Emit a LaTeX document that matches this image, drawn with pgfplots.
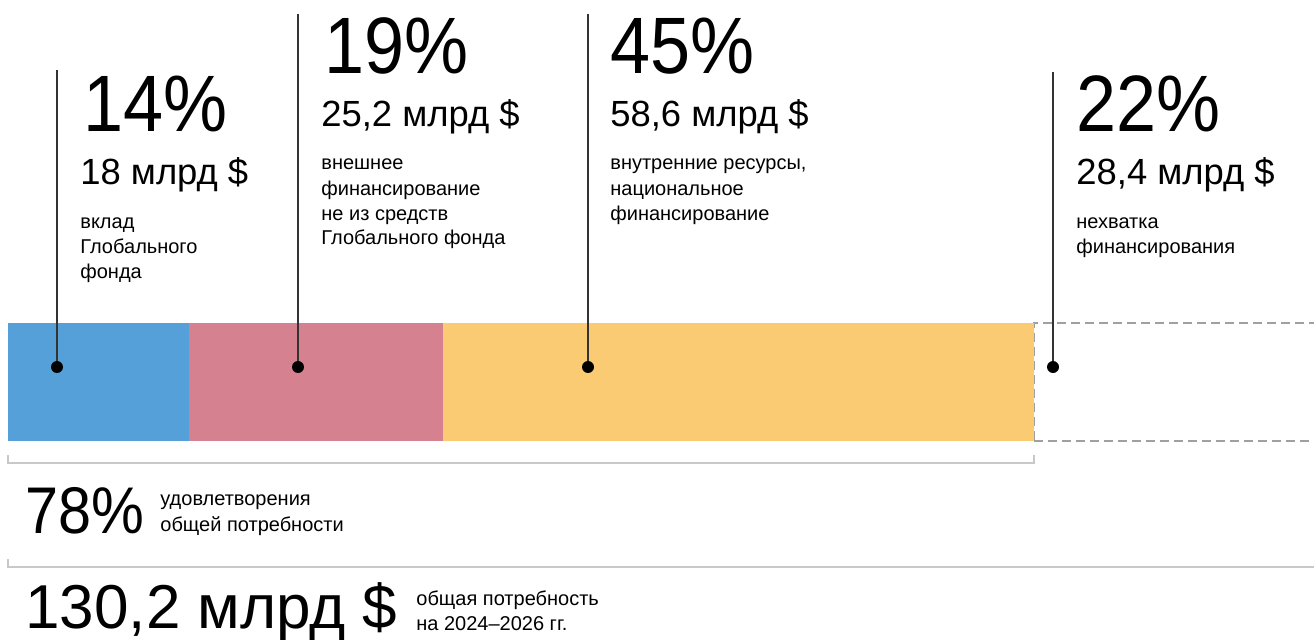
\documentclass[border=0pt]{standalone}
\usepackage{fontspec}
\setmainfont{Liberation Sans}
\newfontfamily\bigf[FakeStretch=0.9]{Liberation Sans}
\usepackage{pgfplots}
\pgfplotsset{compat=1.18}
\definecolor{cblue}{HTML}{55A0D8}
\definecolor{cpink}{HTML}{D6818F}
\definecolor{cyellow}{HTML}{FBCB73}
\definecolor{cgray}{HTML}{A0A0A0}
\definecolor{cbr}{HTML}{C8C8C8}
\definecolor{cline}{HTML}{333333}
\newcommand\smallf{\fontsize{10}{12.5}\selectfont}
\newcommand\medf{\fontsize{18.2}{20}\selectfont}
\newcommand\bigfs{\bigf\fontsize{40}{40}\selectfont}
\newcommand\sm[3]{\node[anchor=base west,inner sep=0,font=\smallf] at (#1,#2) {#3};}
\newcommand\md[3]{\node[anchor=base west,inner sep=0,font=\medf] at (#1,#2) {#3};}
\newcommand\bg[3]{\node[anchor=base west,inner sep=0,font=\bigfs] at (#1,#2) {#3};}
\newcommand\callout[3]{\draw[cline,line width=0.8pt] (#1,#2) -- (#1,#3); \fill[black] (#1,#3) circle[radius=3pt];}
\begin{document}
\begin{tikzpicture}
\useasboundingbox (0,0) rectangle (657pt,319.5pt);
\begin{axis}[at={(4pt,99pt)}, anchor=south west, width=656pt, height=59pt,
  scale only axis, xmin=0, xmax=130.2, ymin=0.5, ymax=1.5, hide axis,
  xbar stacked, bar width=59pt, clip=false]
\addplot[fill=cblue, draw=none] coordinates {(18,1)};
\addplot[fill=cpink, draw=none] coordinates {(25.2,1)};
\addplot[fill=cyellow, draw=none] coordinates {(58.6,1)};
\addplot[fill=white, draw=cgray, line width=1.2pt, dash pattern=on 4.5pt off 2.5pt] coordinates {(28.4,1)};
\draw[cbr, line width=0.9pt] (axis cs:0,0.381) -- (axis cs:0,0.314) -- (axis cs:101.8,0.314) -- (axis cs:101.8,0.381);
\end{axis}
\begin{scope}[x=0.5pt, y=-0.5pt, yshift=319.5pt]
% group 1
\callout{57}{70}{367}
\bg{83}{131}{14\%}
\md{80}{184}{18 млрд \$}
\sm{80}{228}{вклад}
\sm{80}{253}{Глобального}
\sm{80}{278}{фонда}
% group 2
\callout{298}{14}{367}
\bg{324}{74}{19\%}
\md{321}{127}{25,2 млрд \$}
\sm{321}{170}{внешнее}
\sm{321}{195}{финансирование}
\sm{321}{220}{не из средств}
\sm{321}{245}{Глобального фонда}
% group 3
\callout{588}{14}{367}
\bg{610}{74}{45\%}
\md{610}{127}{58,6 млрд \$}
\sm{610}{170}{внутренние ресурсы,}
\sm{610}{195}{национальное}
\sm{610}{220}{финансирование}
% group 4
\callout{1053}{72}{367}
\bg{1076}{131}{22\%}
\md{1076}{184}{28,4 млрд \$}
\sm{1076}{228}{нехватка}
\sm{1076}{253}{финансирования}
% bottom
\node[anchor=base west,inner sep=0,font=\bigf\fontsize{33}{33}\selectfont] at (25,533) {78\%};
\sm{160}{505}{удовлетворения}
\sm{160}{531}{общей потребности}
\draw[cbr, line width=0.9pt] (8,559) -- (8,567) -- (1314,567);
\node[anchor=base west,inner sep=0,font=\fontsize{31}{31}\selectfont] at (25,628) {130,2 млрд \$};
\sm{416}{605}{общая потребность}
\sm{416}{630}{на 2024–2026 гг.}
\end{scope}
\end{tikzpicture}
\end{document}
